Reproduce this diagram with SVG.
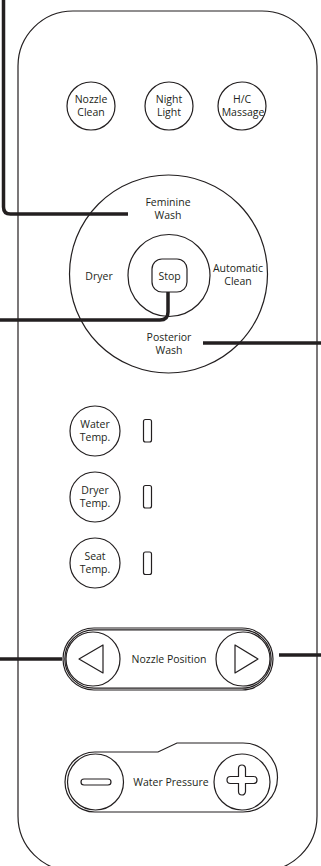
<svg xmlns="http://www.w3.org/2000/svg" width="321" height="866" viewBox="0 0 321 866">
<style>
.o{fill:none;stroke:#231f20;stroke-width:1.2}
.t{font-family:"Open Sans","Liberation Sans",sans-serif;font-size:10.5px;fill:#231f20;text-anchor:middle}
.c{fill:none;stroke:#231f20;stroke-width:3.5}
</style>
<rect width="321" height="866" fill="#fff"/>
<g id="body"><rect class="o" x="18" y="11" width="299" height="860" rx="55"/></g>
<g id="nozzle-clean"><circle class="o" cx="91" cy="106" r="24"/><text class="t" x="91" y="103">Nozzle</text><text class="t" x="91" y="116">Clean</text></g>
<g id="night-light"><circle class="o" cx="169" cy="106" r="24"/><text class="t" x="169" y="103">Night</text><text class="t" x="169" y="116">Light</text></g>
<g id="hc-massage"><circle class="o" cx="242" cy="106" r="24"/><text class="t" x="242" y="103">H/C</text><text class="t" x="243" y="116">Massage</text></g>
<g id="mode-dial"><circle class="o" cx="168.5" cy="274" r="99"/>
<text class="t" x="168" y="206">Feminine</text><text class="t" x="168" y="219">Wash</text>
<text class="t" x="99" y="280">Dryer</text>
<text class="t" x="238" y="272">Automatic</text><text class="t" x="238" y="285">Clean</text>
<text class="t" x="169" y="341">Posterior</text><text class="t" x="169" y="354">Wash</text></g>
<g id="stop"><circle class="o" cx="169" cy="275.5" r="41"/><rect class="o" x="152" y="259" width="35" height="33" rx="10"/><text class="t" x="169.5" y="279.5">Stop</text></g>
<g id="water-temp"><circle class="o" cx="95" cy="431" r="25"/><text class="t" x="95" y="428">Water</text><text class="t" x="95" y="441">Temp.</text><rect class="o" x="143.5" y="419.5" width="8" height="22.5" rx="2"/></g>
<g id="dryer-temp"><circle class="o" cx="95" cy="497" r="25"/><text class="t" x="95" y="494">Dryer</text><text class="t" x="95" y="507">Temp.</text><rect class="o" x="143.5" y="485.5" width="8" height="22.5" rx="2"/></g>
<g id="seat-temp"><circle class="o" cx="95" cy="563" r="25"/><text class="t" x="95" y="560">Seat</text><text class="t" x="95" y="573">Temp.</text><rect class="o" x="143.5" y="552" width="8" height="22.5" rx="2"/></g>
<g id="nozzle-position"><rect class="o" x="63" y="628" width="210" height="62" rx="31"/><rect class="o" x="64.8" y="629.8" width="206.4" height="58.4" rx="29.2"/>
<circle class="o" cx="93" cy="659" r="27"/><circle class="o" cx="243" cy="659" r="27"/>
<path class="o" d="M79,659 L103,645 V673 Z" stroke-linejoin="round"/><path class="o" d="M258,659 L235,645 V673 Z" stroke-linejoin="round"/>
<text class="t" x="169" y="663">Nozzle Position</text></g>
<g id="water-pressure"><path class="o" d="M95,752 H158 L177,743 H243 A34.5,34.5 0 0 1 243,812 H95 A30,30 0 0 1 95,752 Z"/>
<circle class="o" cx="95.5" cy="782" r="28"/><circle class="o" cx="242" cy="782" r="28"/>
<rect class="o" x="81" y="779" width="30" height="6" rx="3"/>
<path class="o" d="M238.5,768.5 A3.5,3.5 0 0 1 245.5,768.5 V776.5 H253.5 A3.5,3.5 0 0 1 253.5,783.5 H245.5 V791.5 A3.5,3.5 0 0 1 238.5,791.5 V783.5 H230.5 A3.5,3.5 0 0 1 230.5,776.5 H238.5 Z"/>
<text class="t" x="171" y="786">Water Pressure</text></g>
<g id="connectors">
<path class="c" d="M3.5,0 V207 Q3.5,214 10.5,214 H128"/>
<path class="c" d="M168,292 V312 Q168,320 160,320 H0"/>
<path class="c" d="M203,343 H321"/>
<path class="c" d="M0,659 H62"/>
<path class="c" d="M279,655 H321"/>
</g>
</svg>
